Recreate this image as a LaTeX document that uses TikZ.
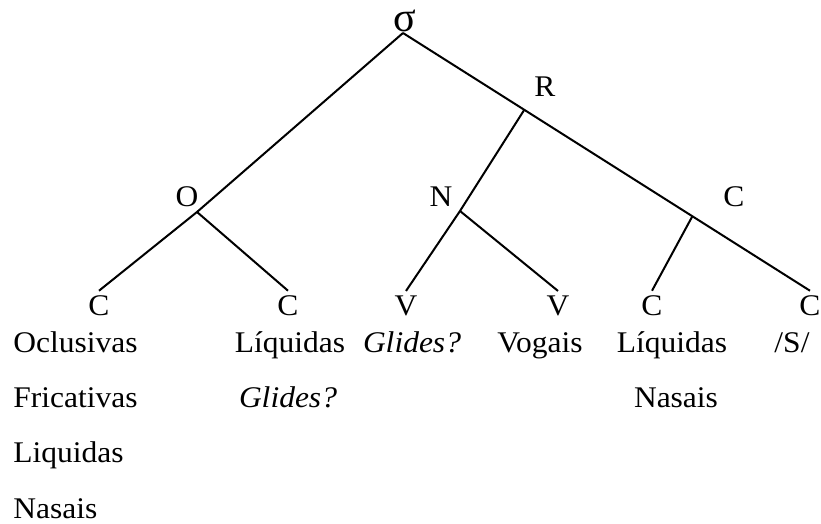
\documentclass[tikz,border=0pt]{standalone}
\usepackage{fontspec}
\setmainfont{Liberation Serif}
\usetikzlibrary{calc}
\newcommand{\stretchtxt}[1]{\scalebox{1.05}[1]{#1}}

\begin{document}
\begin{tikzpicture}[x=0.5pt,y=-0.5pt,
    cat/.style={font=\fontsize{15}{18}\selectfont,inner sep=0pt,anchor=base},
    leaf/.style={font=\fontsize{15}{18}\selectfont,inner sep=2.5pt,anchor=base},
    ex/.style={font=\fontsize{15}{18}\selectfont,inner sep=0pt,anchor=base},
    branch/.style={line width=1pt}
  ]
  \useasboundingbox (0,0) rectangle (821,524);
  % syllable node and branching points
  \node[cat,font=\fontsize{21}{24}\selectfont] (sigma) at (405,32) {σ};
  \coordinate (top) at (403,33);
  \coordinate (o) at (197,212);
  \coordinate (n) at (460,211);
  % terminal slots
  \node[leaf] (c1) at (99,316) {\stretchtxt{C}};
  \node[leaf] (c2) at (288,316) {\stretchtxt{C}};
  \node[leaf] (v1) at (406,316) {\stretchtxt{V}};
  \node[leaf] (v2) at (558,316) {\stretchtxt{V}};
  \node[leaf] (c3) at (652,316) {\stretchtxt{C}};
  \node[leaf] (c4) at (810,316) {\stretchtxt{C}};
  % branches
  \draw[branch] (top) -- (o) -- (c1.north);
  \draw[branch] (o) -- (c2.north);
  \draw[branch] (top) -- (c4.north);
  \coordinate (r) at ($(top)!0.298!(c4.north)$);
  \coordinate (k) at ($(top)!0.711!(c4.north)$);
  \draw[branch] (r) -- (n) -- (v1.north);
  \draw[branch] (n) -- (v2.north);
  \draw[branch] (k) -- (c3.north);
  % constituent labels
  \node[cat] (onset) at (187,207) {\stretchtxt{O}};
  \node[cat] (nucleus) at (441,207) {\stretchtxt{N}};
  \node[cat] (rhyme) at (545,97) {\stretchtxt{R}};
  \node[cat] (coda) at (734,207) {\stretchtxt{C}};
  % segment classes
  \node[ex,anchor=base west] (ocl) at (13,353) {\stretchtxt{Oclusivas}};
  \node[ex,anchor=base west] (fric) at (13,408) {\stretchtxt{Fricativas}};
  \node[ex,anchor=base west] (liq) at (13,463) {\stretchtxt{Liquidas}};
  \node[ex,anchor=base west] (nas) at (13,518) {\stretchtxt{Nasais}};
  \node[ex] (liqo) at (290,353) {\stretchtxt{Líquidas}};
  \node[ex] (glio) at (288,408) {\stretchtxt{\textit{Glides?}}};
  \node[ex] (glin) at (412,353) {\stretchtxt{\textit{Glides?}}};
  \node[ex] (vog) at (540,353) {\stretchtxt{Vogais}};
  \node[ex] (liqc) at (672,353) {\stretchtxt{Líquidas}};
  \node[ex] (nasc) at (676,408) {\stretchtxt{Nasais}};
  \node[ex] (sib) at (792,353) {\stretchtxt{/S/}};
\end{tikzpicture}
\end{document}
